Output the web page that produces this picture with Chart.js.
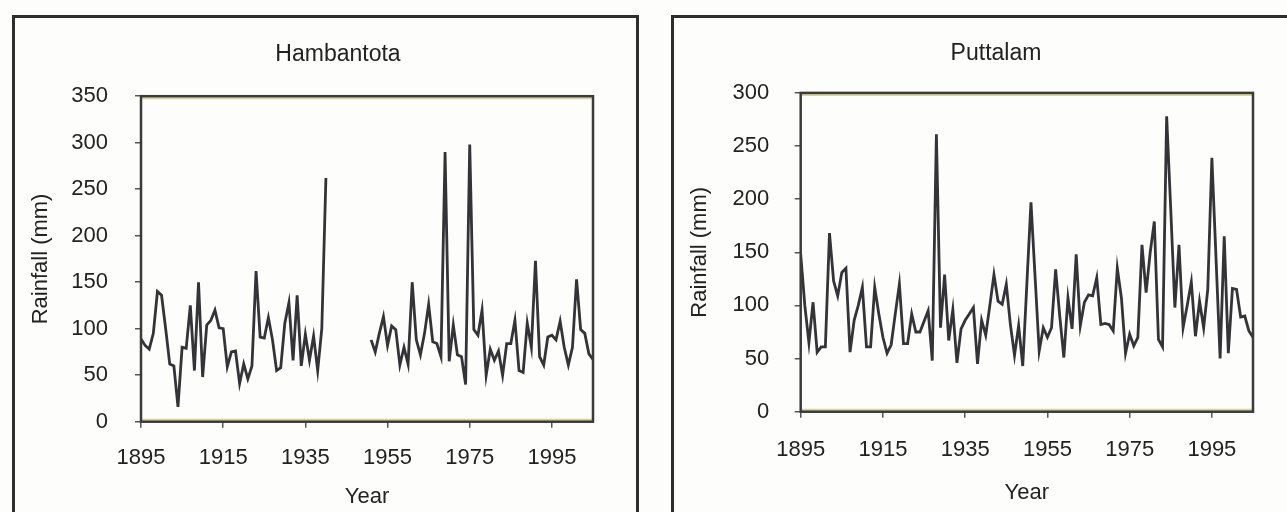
<!DOCTYPE html>
<html>
<head>
<meta charset="utf-8">
<script src="https://cdn.jsdelivr.net/npm/chart.js@4/dist/chart.umd.min.js"></script>
<style>
  body { margin: 0; background: #fff; }
  #page { position: relative; width: 1287px; height: 512px; overflow: hidden; background: #fdfdfb; }
  .frame { position: absolute; border: 3px solid #2e2e2e; box-sizing: border-box; }
  canvas { position: absolute; top: 0; }
</style>
</head>
<body>
<div id="page">
  <div class="frame" style="left:12px; top:15px; width:627px; height:520px;"></div>
  <div class="frame" style="left:671px; top:15px; width:640px; height:520px;"></div>
  <canvas id="hambChart" width="650" height="512" style="left:0"></canvas>
  <canvas id="puttChart" width="637" height="512" style="left:650px"></canvas>
</div>
<script>
const years = [
  1895, 1896, 1897, 1898, 1899, 1900, 1901, 1902, 1903, 1904,
  1905, 1906, 1907, 1908, 1909, 1910, 1911, 1912, 1913, 1914,
  1915, 1916, 1917, 1918, 1919, 1920, 1921, 1922, 1923, 1924,
  1925, 1926, 1927, 1928, 1929, 1930, 1931, 1932, 1933, 1934,
  1935, 1936, 1937, 1938, 1939, 1940, 1941, 1942, 1943, 1944,
  1945, 1946, 1947, 1948, 1949, 1950, 1951, 1952, 1953, 1954,
  1955, 1956, 1957, 1958, 1959, 1960, 1961, 1962, 1963, 1964,
  1965, 1966, 1967, 1968, 1969, 1970, 1971, 1972, 1973, 1974,
  1975, 1976, 1977, 1978, 1979, 1980, 1981, 1982, 1983, 1984,
  1985, 1986, 1987, 1988, 1989, 1990, 1991, 1992, 1993, 1994,
  1995, 1996, 1997, 1998, 1999, 2000, 2001, 2002, 2003, 2004,
  2005
];

// Hambantota: no record 1941-1950
const hambantotaRain = [
  89, 82, 78, 95, 140, 136, 100, 62, 60, 16,
  80, 79, 125, 55, 150, 48, 104, 109, 120, 101,
  100, 59, 75, 76, 41, 62, 46, 60, 162, 91,
  90, 112, 88, 55, 58, 106, 128, 66, 136, 60,
  94, 66, 92, 55, 100, 262, null, null, null, null,
  null, null, null, null, null, null, 88, 75, 95, 113,
  82, 103, 99, 61, 80, 62, 150, 88, 72, 95,
  126, 86, 84, 70, 290, 65, 104, 72, 70, 40,
  298, 99, 93, 120, 50, 78, 66, 76, 50, 84,
  84, 109, 55, 53, 106, 80, 173, 70, 61, 91,
  93, 88, 108, 80, 61, 80, 153, 99, 95, 73,
  67
];

const puttalamRain = [
  148, 100, 65, 103, 56, 61, 61, 168, 123, 109,
  131, 135, 56, 86, 100, 117, 61, 61, 117, 92,
  70, 55, 63, 92, 120, 64, 64, 92, 75, 75,
  85, 95, 48, 261, 79, 129, 67, 96, 46, 78,
  86, 92, 98, 45, 86, 72, 100, 129, 104, 101,
  120, 82, 53, 81, 43, 120, 197, 127, 57, 79,
  70, 79, 134, 90, 51, 107, 78, 148, 81, 103,
  110, 109, 126, 82, 83, 82, 76, 135, 107, 55,
  73, 62, 70, 157, 112, 150, 179, 68, 61, 278,
  190, 98, 157, 79, 100, 122, 71, 104, 79, 115,
  239, 145, 50, 165, 55, 116, 115, 89, 90, 76,
  70
];

const yearTicks = [1895, 1915, 1935, 1955, 1975, 1995];

const fontFamily = "'Liberation Sans', Arial, sans-serif";
const textColor = '#222';

// frame round the plot area, and title centred on the panel
const plotBox = {
  id: 'plotBox',
  afterLayout(chart, args, opts) {
    if (opts.titleX) {
      chart.titleBlock.left = opts.titleX - 200;
      chart.titleBlock.right = opts.titleX + 200;
    }
  },
  afterDraw(chart) {
    const { ctx, chartArea: a } = chart;
    ctx.save();
    ctx.strokeStyle = '#d8d59c';
    ctx.lineWidth = 2;
    ctx.beginPath();
    ctx.moveTo(a.left, a.top + 2); ctx.lineTo(a.right, a.top + 2);
    ctx.moveTo(a.left, a.bottom - 2); ctx.lineTo(a.right, a.bottom - 2);
    ctx.stroke();
    ctx.strokeStyle = '#3a3a3a';
    ctx.lineWidth = 2.5;
    ctx.strokeRect(a.left, a.top, a.right - a.left, a.bottom - a.top);
    ctx.restore();
  }
};

function makeChart(id, station, values, yMax, lay) {
  const points = years.map((yr, i) => ({ x: yr, y: values[i] }));
  return new Chart(document.getElementById(id), {
    type: 'line',
    data: {
      datasets: [{
        label: station,
        data: points,
        borderColor: '#333338',
        borderWidth: 2.8,
        pointRadius: 0,
        tension: 0,
        spanGaps: false
      }]
    },
    options: {
      responsive: false,
      animation: false,
      layout: { padding: { left: 0, right: lay.padRight, top: 0, bottom: 0 } },
      plugins: {
        legend: { display: false },
        tooltip: { enabled: false },
        title: {
          display: true,
          text: station,
          color: textColor,
          font: { family: fontFamily, size: 23, weight: 'normal' },
          padding: { top: lay.titleTop, bottom: lay.titleBottom }
        },
        plotBox: { titleX: lay.titleX }
      },
      scales: {
        x: {
          type: 'linear',
          min: 1895,
          max: 2005,
          afterBuildTicks: (scale) => { scale.ticks = yearTicks.map(v => ({ value: v })); },
          afterFit: (scale) => { scale.height = lay.xHeight; },
          border: { display: false },
          grid: { drawOnChartArea: false, tickLength: 6, color: '#555', lineWidth: 1.5 },
          ticks: {
            color: textColor,
            padding: lay.xTickPad,
            maxRotation: 0,
            font: { family: fontFamily, size: 22 },
            callback: (v) => String(v)
          },
          title: {
            display: true,
            text: 'Year',
            color: textColor,
            font: { family: fontFamily, size: 22 },
            padding: { top: 0, bottom: lay.xTitlePad }
          }
        },
        y: {
          min: 0,
          max: yMax,
          afterFit: (scale) => { scale.width = lay.yWidth; },
          border: { display: false },
          grid: { drawOnChartArea: false, tickLength: 6, color: '#555', lineWidth: 1.5 },
          ticks: {
            stepSize: 50,
            color: textColor,
            padding: lay.yTickPad,
            font: { family: fontFamily, size: 22 }
          },
          title: {
            display: true,
            text: 'Rainfall (mm)',
            color: textColor,
            font: { family: fontFamily, size: 22 },
            padding: { top: lay.yTitlePad, bottom: 0 }
          }
        }
      }
    },
    plugins: [plotBox]
  });
}

makeChart('hambChart', 'Hambantota', hambantotaRain, 350, {
  padRight: 57, titleTop: 40.8, titleBottom: 27.8, titleX: 338,
  xHeight: 90.3, xTickPad: 17.4, xTitlePad: 2.1,
  yWidth: 141, yTickPad: 27, yTitlePad: 27.8
});

makeChart('puttChart', 'Puttalam', puttalamRain, 300, {
  padRight: 34, titleTop: 40.2, titleBottom: 25.1, titleX: 346,
  xHeight: 100.3, xTickPad: 19.1, xTitlePad: 5.5,
  yWidth: 150.7, yTickPad: 25.4, yTitlePad: 36.8
});
</script>
</body>
</html>
